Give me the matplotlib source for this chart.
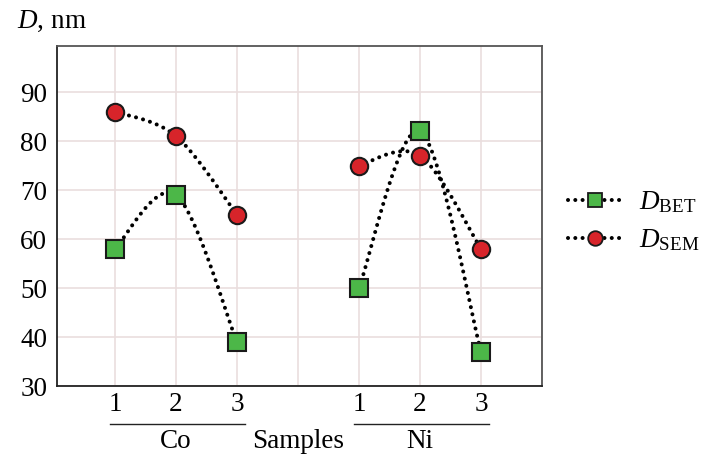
import numpy as np
import matplotlib
matplotlib.use("Agg")
import matplotlib.pyplot as plt
import matplotlib.transforms as mtransforms

plt.rcParams['font.family'] = ['Liberation Serif', 'DejaVu Serif']
plt.rcParams['mathtext.fontset'] = 'custom'
plt.rcParams['mathtext.rm'] = 'Liberation Serif'
plt.rcParams['mathtext.it'] = 'Liberation Serif:italic'

# данные
groups = ["Co", "Ni"]
sample_labels = ["1", "2", "3"]
d_bet_co = [58, 69, 39]
d_bet_ni = [50, 82, 37]
d_sem_co = [86, 81, 65]
d_sem_ni = [75, 77, 58]
y_ticks = [30, 40, 50, 60, 70, 80, 90]

pos_co = np.array([1, 2, 3])
pos_ni = np.array([5, 6, 7])

FS = 19.5


def smooth(xs, ys, n=40):
    # Excel-like smoothed line (Catmull-Rom through the points)
    p = np.column_stack([xs, ys]).astype(float)
    p_ext = np.vstack([p[0], p, p[-1]])
    out = []
    for i in range(len(p) - 1):
        p0, p1, p2, p3 = p_ext[i], p_ext[i + 1], p_ext[i + 2], p_ext[i + 3]
        c1 = p1 + (p2 - p0) / 6
        c2 = p2 - (p3 - p1) / 6
        t = np.linspace(0, 1, n)[:, None]
        seg = ((1 - t) ** 3) * p1 + 3 * ((1 - t) ** 2) * t * c1 + 3 * (1 - t) * t ** 2 * c2 + t ** 3 * p2
        out.append(seg if i == 0 else seg[1:])
    out = np.vstack(out)
    return out[:, 0], out[:, 1]


fig = plt.figure(figsize=(7.03, 4.55), dpi=100)
ax = fig.add_axes([0.081, 0.1516, 0.69, 0.7474])

green = "#4cb748"
red = "#d7242a"
dots = (0, (0.01, 1.8))
line_kw = dict(color="black", linestyle=dots, linewidth=2.9, dash_capstyle="round", zorder=2)

for xs, ys in [(pos_co, d_bet_co), (pos_ni, d_bet_ni), (pos_co, d_sem_co), (pos_ni, d_sem_ni)]:
    sx, sy = smooth(xs, ys)
    ax.plot(sx, sy, **line_kw)

mk_sq = dict(marker="s", markersize=12.5, markerfacecolor=green, markeredgecolor="#1a1a1a", markeredgewidth=1.5, linestyle="none", zorder=3)
mk_ci = dict(marker="o", markersize=12.5, markerfacecolor=red, markeredgecolor="#1a1a1a", markeredgewidth=1.5, linestyle="none", zorder=3)
ax.plot(pos_co, d_bet_co, **mk_sq)
ax.plot(pos_ni, d_bet_ni, **mk_sq)
ax.plot(pos_co, d_sem_co, **mk_ci)
ax.plot(pos_ni, d_sem_ni, **mk_ci)

# legend handles
h_bet, = ax.plot([], [], color="black", linestyle=dots, linewidth=2.9,
                 dash_capstyle="round", marker="s", markersize=10, markerfacecolor=green,
                 markeredgecolor="#1a1a1a", markeredgewidth=1.3)
h_sem, = ax.plot([], [], color="black", linestyle=dots, linewidth=2.9,
                 dash_capstyle="round", marker="o", markersize=10.5, markerfacecolor=red,
                 markeredgecolor="#1a1a1a", markeredgewidth=1.3)
leg = ax.legend([h_bet, h_sem], [r"$D_{\mathrm{BET}}$", r"$D_{\mathrm{SEM}}$"],
                loc="center left", bbox_to_anchor=(1.015, 0.485), frameon=False,
                fontsize=FS, handlelength=2.0, handletextpad=0.6, labelspacing=0.45,
                borderaxespad=0.3)

ax.set_xlim(0.05, 8.0)
ax.set_ylim(30, 99.4)
ax.set_yticks(y_ticks)
ax.set_xticks(np.arange(1, 9))
ax.set_xticklabels(sample_labels + [""] + sample_labels + [""])
ax.tick_params(axis="both", which="both", length=0, labelsize=FS)
ax.tick_params(axis="x", pad=4)
ax.tick_params(axis="y", pad=7)
ax.grid(True, which="major", color="#eadede", linewidth=1.2)
ax.set_axisbelow(True)
for s in ["left", "bottom"]:
    ax.spines[s].set_color("#222222")
    ax.spines[s].set_linewidth(1.3)
for s in ["top", "right"]:
    ax.spines[s].set_color("#555555")
    ax.spines[s].set_linewidth(1.3)

# group labels
trans = mtransforms.blended_transform_factory(ax.transData, ax.transAxes)
for g, pos in zip(groups, [pos_co, pos_ni]):
    ax.plot([pos[0] - 0.08, pos[-1] + 0.13], [-0.112, -0.112], color="#222222",
            linewidth=1.0, transform=trans, clip_on=False)
    ax.text(pos[1], -0.162, g, transform=trans, ha="center", va="center", fontsize=FS)
ax.text(4, -0.162, "Samples", transform=trans, ha="center", va="center", fontsize=FS)

fig.text(0.024, 0.953, r"$D$, nm", ha="left", va="center", fontsize=FS)

fig.savefig("out.png", dpi=100)
